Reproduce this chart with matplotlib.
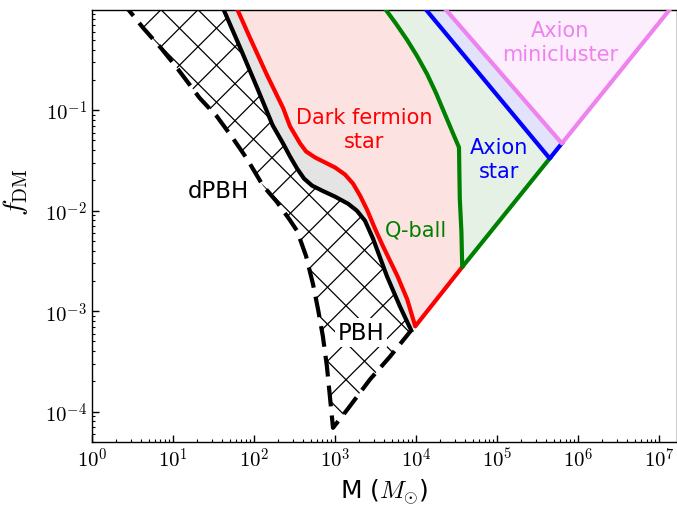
import numpy as np
import matplotlib
matplotlib.use("Agg")
import matplotlib.pyplot as plt
from matplotlib.patches import Polygon
from matplotlib.collections import LineCollection
from matplotlib.transforms import IdentityTransform
from matplotlib.ticker import FuncFormatter, LogLocator

plt.rcParams['mathtext.fontset'] = 'cm'
plt.rcParams['font.family'] = ['DejaVu Sans']

# ---------------- data: log10(M / Msun) and log10(f_DM) ----------------
pbh_logM = [0.35, 0.43, 0.63, 0.85, 1.05, 1.33, 1.54, 1.74, 1.91, 2.11, 2.28, 2.44,
            2.531, 2.642, 2.728, 2.79, 2.85, 2.90, 2.975, 3.15, 3.43, 3.68, 3.94]
pbh_logf = [0.1, 0.02, -0.18, -0.38, -0.58, -0.88, -1.06, -1.28, -1.48, -1.75, -1.91, -2.09,
            -2.20, -2.45, -2.73, -2.98, -3.25, -3.55, -4.16, -3.98, -3.68, -3.45, -3.19]

dpbh_logM = [1.55, 1.62, 1.83, 2.04, 2.23, 2.358, 2.444, 2.531, 2.617, 2.716, 2.84, 3.0,
             3.16, 3.27, 3.37, 3.47, 3.64, 3.80, 3.94]
dpbh_logf = [0.1, 0.01, -0.38, -0.78, -1.15, -1.33, -1.46, -1.58, -1.68, -1.75, -1.80, -1.86,
             -1.93, -2.0, -2.10, -2.28, -2.65, -2.95, -3.19]

dfs_logM = [1.72, 1.79, 1.95, 2.16, 2.36, 2.444, 2.568, 2.642, 2.753, 2.877, 3.0, 3.123,
            3.222, 3.309, 3.395, 3.494, 3.59, 3.77, 3.89, 3.99]
dfs_logf = [0.1, 0.01, -0.28, -0.65, -0.98, -1.16, -1.33, -1.41, -1.47, -1.52, -1.57, -1.64,
            -1.73, -1.85, -1.99, -2.18, -2.35, -2.65, -2.88, -3.15]

qball_logM = [3.53, 3.617, 3.753, 3.889, 4.012, 4.136, 4.247, 4.346, 4.44, 4.53,
              4.54, 4.56, 4.57]
qball_logf = [0.1, 0.01, -0.14, -0.30, -0.46, -0.64, -0.83, -1.02, -1.20, -1.37,
              -1.88, -2.21, -2.56]

axstar_logM = [4.02, 5.65]
axstar_logf = [0.1, -1.48]

amc_logM = [4.26, 5.80]
amc_logf = [0.1, -1.33]

# upper-right edge (maximum fraction line) vertices
edge_logM = [3.99, 4.57, 5.65, 5.80, 7.23]
edge_logf = [-3.15, -2.56, -1.48, -1.33, 0.1]

# labels
lab_text = ["Dark fermion\nstar", "Q-ball", "Axion\nstar", "Axion\nminicluster", "dPBH", "PBH"]
lab_M = [2291, 10000, 1.05e5, 6.0e5, 36, 2089]
lab_f = [0.0646, 0.00646, 0.0324, 0.479, 0.0158, 6.17e-4]
lab_col = ["red", "green", "blue", "violet", "black", "black"]

xticks_exp = [0, 1, 2, 3, 4, 5, 6, 7]
yticks_exp = [-4, -3, -2, -1]


def v(a):
    return [10.0 ** x for x in a]


pbh_M, pbh_f = v(pbh_logM), v(pbh_logf)
dpbh_M, dpbh_f = v(dpbh_logM), v(dpbh_logf)
dfs_M, dfs_f = v(dfs_logM), v(dfs_logf)
qball_M, qball_f = v(qball_logM), v(qball_logf)
axstar_M, axstar_f = v(axstar_logM), v(axstar_logf)
amc_M, amc_f = v(amc_logM), v(amc_logf)
edge_M, edge_f = v(edge_logM), v(edge_logf)

# ---------------- figure ----------------
fig = plt.figure(figsize=(6.77, 5.06), dpi=100)
ax = fig.add_axes([92 / 677, 1 - 443 / 506, (676.5 - 92) / 677, (443 - 10.7) / 506])
ax.set_xscale('log')
ax.set_yscale('log')
ax.set_xlim(1, 10 ** 7.215)
ax.set_ylim(5e-5, 1.0)


def poly(xs, ys, **kw):
    p = Polygon(np.column_stack([xs, ys]), closed=True, **kw)
    ax.add_patch(p)
    return p


# fills
poly(dpbh_M + dfs_M[::-1], dpbh_f + dfs_f[::-1], facecolor='#e4e4e4', edgecolor='none', zorder=1)
poly(dfs_M + [edge_M[1]] + qball_M[::-1], dfs_f + [edge_f[1]] + qball_f[::-1],
     facecolor='#fde2e2', edgecolor='none', zorder=1)
poly(qball_M + [edge_M[2]] + axstar_M[::-1], qball_f + [edge_f[2]] + axstar_f[::-1],
     facecolor='#e6f1e6', edgecolor='none', zorder=1)
poly(axstar_M + [edge_M[3]] + amc_M[::-1], axstar_f + [edge_f[3]] + amc_f[::-1],
     facecolor='#e2e2fa', edgecolor='none', zorder=1)
poly(amc_M + [edge_M[4]], amc_f + [edge_f[4]], facecolor='#fdeefd', edgecolor='none', zorder=1)

# hatched PBH region (coarse cross-hatch drawn by hand)
clip = poly(pbh_M + dpbh_M[::-1], pbh_f + dpbh_f[::-1], facecolor='none', edgecolor='none', zorder=2)
sp = 37.0
c0 = 334.3
d0 = 656.3
segs = []
for k in range(-40, 40):
    c = c0 + sp * k
    segs.append([(-200, -200 + c), (900, 900 + c)])
    d = d0 + sp * k
    segs.append([(-200, d + 200), (900, d - 900)])
lc = LineCollection(segs, colors='black', linewidths=0.9, transform=IdentityTransform(), zorder=2)
ax.add_collection(lc)
lc.set_clip_path(clip)

# lines
ax.plot(pbh_M, pbh_f, color='black', lw=3, ls=(0, (5, 2.2)), zorder=4)
ax.plot(dpbh_M, dpbh_f, color='black', lw=3, zorder=5)
ax.plot(dfs_M + [edge_M[1]], dfs_f + [edge_f[1]], color='red', lw=3, zorder=5)
ax.plot(qball_M + [edge_M[2]], qball_f + [edge_f[2]], color='green', lw=3, zorder=5)
ax.plot(axstar_M + [edge_M[3]], axstar_f + [edge_f[3]], color='blue', lw=3, zorder=5)
ax.plot(amc_M + [edge_M[4]], amc_f + [edge_f[4]], color='violet', lw=3, zorder=5)

# labels
for t, m, f, c in zip(lab_text, lab_M, lab_f, lab_col):
    kw = dict(color=c, ha='center', va='center', multialignment='center', linespacing=1.25, zorder=6)
    if t in ("dPBH", "PBH"):
        kw['fontsize'] = 16.5
    else:
        kw['fontsize'] = 15
    if t == "PBH":
        kw['bbox'] = dict(facecolor='white', edgecolor='none', pad=2)
    ax.text(m, f, t, **kw)

# axes styling
ax.set_xticks([10.0 ** e for e in xticks_exp])
ax.set_yticks([10.0 ** e for e in yticks_exp])
ax.xaxis.set_minor_locator(LogLocator(base=10, subs=np.arange(2, 10), numticks=20))
ax.yaxis.set_minor_locator(LogLocator(base=10, subs=np.arange(2, 10), numticks=20))
fmt = FuncFormatter(lambda val, p: r'$10^{%d}$' % int(round(np.log10(val))))
ax.xaxis.set_major_formatter(fmt)
ax.yaxis.set_major_formatter(fmt)
ax.xaxis.set_minor_formatter(FuncFormatter(lambda val, p: ''))
ax.yaxis.set_minor_formatter(FuncFormatter(lambda val, p: ''))
ax.tick_params(which='both', direction='in', top=False, right=False, labelsize=15)
ax.tick_params(which='major', length=5, width=1)
ax.tick_params(which='minor', length=2.5, width=0.8)
for s in ax.spines.values():
    s.set_linewidth(1.0)

ax.set_xlabel(r'M ($M_{\odot}$)', fontsize=18, labelpad=4)
ax.set_ylabel(r'$f_{\rm DM}$', fontsize=20)
ax.yaxis.set_label_coords(-0.106, 0.58)

fig.savefig('out.png', dpi=100)
